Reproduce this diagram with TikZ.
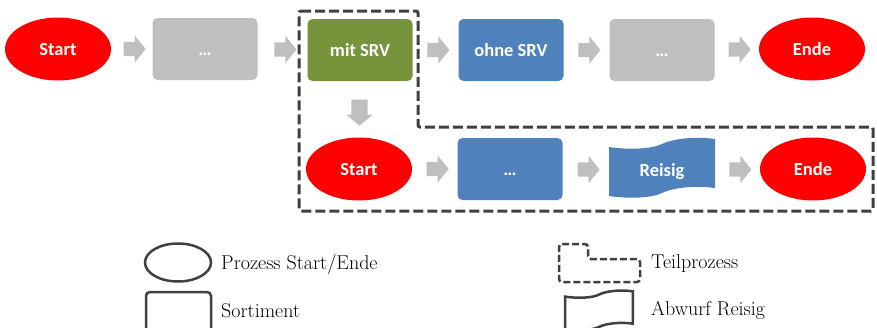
\documentclass[tikz,border=0pt]{standalone}
\usepackage{fontspec}
\newfontfamily\boxfont{Carlito}
\usetikzlibrary{calc,shapes.geometric,shapes.arrows}

\definecolor{termred}{HTML}{FF0000}
\definecolor{stepgray}{HTML}{BFBFBF}
\definecolor{srvgreen}{HTML}{77933C}
\definecolor{srvblue}{HTML}{4F81BD}
\definecolor{framegray}{HTML}{404040}

% outline of the "Abwurf Reisig" sheet, 106 x 62 from its top left corner
\def\reisigpath{(0, 10) .. controls (20, 13) and (43, 12) .. (53, 7) .. controls (63, 2) and (85, -1) .. (106, 2)
	-- (106, 51) .. controls (85, 48) and (63, 51) .. (53, 56) .. controls (43, 61) and (20, 62) .. (0, 59) -- cycle}

\tikzset{
	boxtext/.style={text=white, text height=13pt, text depth=0pt, font=\boxfont\bfseries\fontsize{18.5}{20}\selectfont},
	terminal/.style={ellipse, fill=termred, minimum width=106pt, minimum height=63pt, inner sep=0pt, boxtext},
	stepbox/.style={rectangle, rounded corners=5pt, fill=#1, minimum width=105pt, minimum height=62pt, inner sep=0pt, boxtext},
	flowarrow/.style={single arrow, fill=stepgray, inner sep=0pt, inner ysep=7pt, minimum height=22pt, single arrow head extend=6.5pt, single arrow tip angle=102},
	downarrow/.style={single arrow, fill=stepgray, inner sep=0pt, inner xsep=8pt, minimum height=26pt, single arrow head extend=5pt, single arrow tip angle=100, shape border rotate=270},
	legendline/.style={draw=framegray, line width=2.5pt},
	legendtext/.style={anchor=west, inner sep=0pt, font=\fontsize{20}{24}\selectfont}
}

\begin{document}
\begin{tikzpicture}[x=1pt, y=-1pt]
		%%%%% START %%%%%
		\clip (0, 0) rectangle (877, 327);
		
		% main flow
		\node[terminal] (start) at (58, 49) {Start};
		\node[stepbox=stepgray] (pre) at (205, 49) {…};
		\node[stepbox=srvgreen] (mitsrv) at (360, 50) {mit SRV};
		\node[stepbox=srvblue] (ohnesrv) at (511, 50) {ohne SRV};
		\node[stepbox=stepgray] (post) at (662, 50) {…};
		\node[terminal] (ende) at (812, 49) {Ende};
		
		% sub process
		\node[terminal] (substart) at (359, 169) {Start};
		\node[stepbox=srvblue] (subsort) at (510, 169) {…};
		\fill[srvblue, shift={(609, 137)}] \reisigpath;
		\node[boxtext, minimum width=106pt, minimum height=62pt, inner sep=0pt] (subreisig) at (662, 170) {Reisig};
		\node[terminal] (subende) at (813, 169) {Ende};
		
		\node[flowarrow] (a1) at ($(start.east)!0.5!(pre.west)$) {};
		\node[flowarrow] (a2) at ($(pre.east)!0.5!(mitsrv.west)$) {};
		\node[flowarrow] (a3) at ($(mitsrv.east)!0.5!(ohnesrv.west)$) {};
		\node[flowarrow] (a4) at ($(ohnesrv.east)!0.5!(post.west)$) {};
		\node[flowarrow] (a5) at ($(post.east)!0.5!(ende.west)$) {};
		\node[downarrow] (down) at ($(mitsrv.south)!0.5!(substart.north)$) {};
		\node[flowarrow] (b1) at ($(substart.east)!0.5!(subsort.west)$) {};
		\node[flowarrow] (b2) at ($(subsort.east)!0.5!(subreisig.west)$) {};
		\node[flowarrow] (b3) at ($(subreisig.east)!0.5!(subende.west)$) {};
		
		% dashed outline of the sub process
		\draw[framegray, line width=3pt, dash pattern=on 10pt off 4pt, rounded corners=2pt]
			(299, 11) -- (418, 11) -- (418, 127) -- (873, 127) -- (873, 211) -- (299, 211) -- cycle;
		
		% legend
		\node[ellipse, legendline, minimum width=66pt, minimum height=38pt, inner sep=0pt] (lgterm) at (178, 262.5) {};
		\node[legendtext] (lgtermtext) at (221, 264) {Prozess Start/Ende};
		\draw[legendline, rounded corners=4pt] (146, 292) rectangle (211, 345);
		\node[legendtext] (lgsorttext) at (221, 311) {Sortiment};
		\draw[legendline, dash pattern=on 7pt off 3pt, rounded corners=3pt]
			(559, 244) -- (588, 244) -- (588, 259) -- (640, 259) -- (640, 282) -- (559, 282) -- cycle;
		\node[legendtext] (lgteiltext) at (651, 264) {Teilprozess};
		\draw[legendline, shift={(565, 290)}, xscale=0.64, yscale=0.66] \reisigpath;
		\node[legendtext] (lgreisigtext) at (651, 310) {Abwurf Reisig};
		%%%%% END %%%%%
\end{tikzpicture}
\end{document}
